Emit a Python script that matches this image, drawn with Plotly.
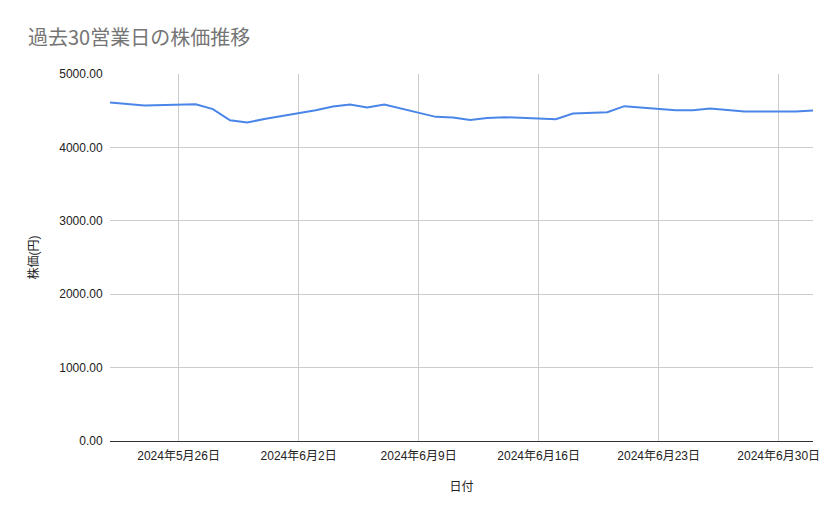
import plotly.graph_objects as go

# 過去30営業日の終値
dates = [
    "2024-05-22", "2024-05-23", "2024-05-24", "2024-05-27", "2024-05-28",
    "2024-05-29", "2024-05-30", "2024-05-31", "2024-06-03", "2024-06-04",
    "2024-06-05", "2024-06-06", "2024-06-07", "2024-06-10", "2024-06-11",
    "2024-06-12", "2024-06-13", "2024-06-14", "2024-06-17", "2024-06-18",
    "2024-06-19", "2024-06-20", "2024-06-21", "2024-06-24", "2024-06-25",
    "2024-06-26", "2024-06-27", "2024-06-28", "2024-07-01", "2024-07-02",
]
prices = [
    4612, 4590, 4571, 4589, 4521,
    4370, 4338, 4388, 4507, 4557,
    4584, 4543, 4584, 4416, 4408,
    4374, 4402, 4411, 4384, 4461,
    4470, 4479, 4562, 4507, 4507,
    4530, 4511, 4489, 4489, 4502,
]

tick_dates = ["2024-05-26", "2024-06-02", "2024-06-09", "2024-06-16", "2024-06-23", "2024-06-30"]
tick_labels = ["2024年5月26日", "2024年6月2日", "2024年6月9日", "2024年6月16日", "2024年6月23日", "2024年6月30日"]

font_family = "Liberation Sans, Arial, Noto Sans CJK JP, sans-serif"

fig = go.Figure()
fig.add_trace(go.Scatter(
    x=dates,
    y=prices,
    mode="lines",
    line=dict(color="#4a86e8", width=2),
    showlegend=False,
))

# the page body adds 8px around the figure, so the figure is 8px smaller
fig.update_layout(
    width=831,
    height=511,
    paper_bgcolor="white",
    plot_bgcolor="white",
    margin=dict(l=102, r=26, t=66, b=78),
    font=dict(family=font_family, size=12, color="#222222"),
    title=dict(
        text="過去30営業日の株価推移",
        x=0.024, xanchor="left",
        y=0.941, yanchor="middle",
        font=dict(family="Noto Sans CJK JP, sans-serif", size=20, color="#757575"),
    ),
)

fig.update_xaxes(
    range=["2024-05-22", "2024-07-02"],
    tickvals=tick_dates,
    ticktext=tick_labels,
    showgrid=True,
    gridcolor="#cccccc",
    gridwidth=1,
    showline=False,
    zeroline=False,
    ticks="outside",
    ticklen=4,
    tickcolor="rgba(0,0,0,0)",
    tickfont=dict(size=12, color="#222222"),
    title=dict(text="日付", font=dict(size=12, color="#222222"), standoff=20),
    automargin=False,
)

fig.update_yaxes(
    range=[0, 5000],
    tickvals=[0, 1000, 2000, 3000, 4000, 5000],
    tickformat=".2f",
    showgrid=True,
    gridcolor="#cccccc",
    gridwidth=1,
    zeroline=True,
    zerolinecolor="#333333",
    zerolinewidth=1,
    ticks="outside",
    ticklen=4,
    tickcolor="rgba(0,0,0,0)",
    tickfont=dict(size=12, color="#222222"),
    title=dict(text="株価(円)", font=dict(size=12, color="#222222"), standoff=18),
    automargin=False,
)

fig.write_html("out.html")
